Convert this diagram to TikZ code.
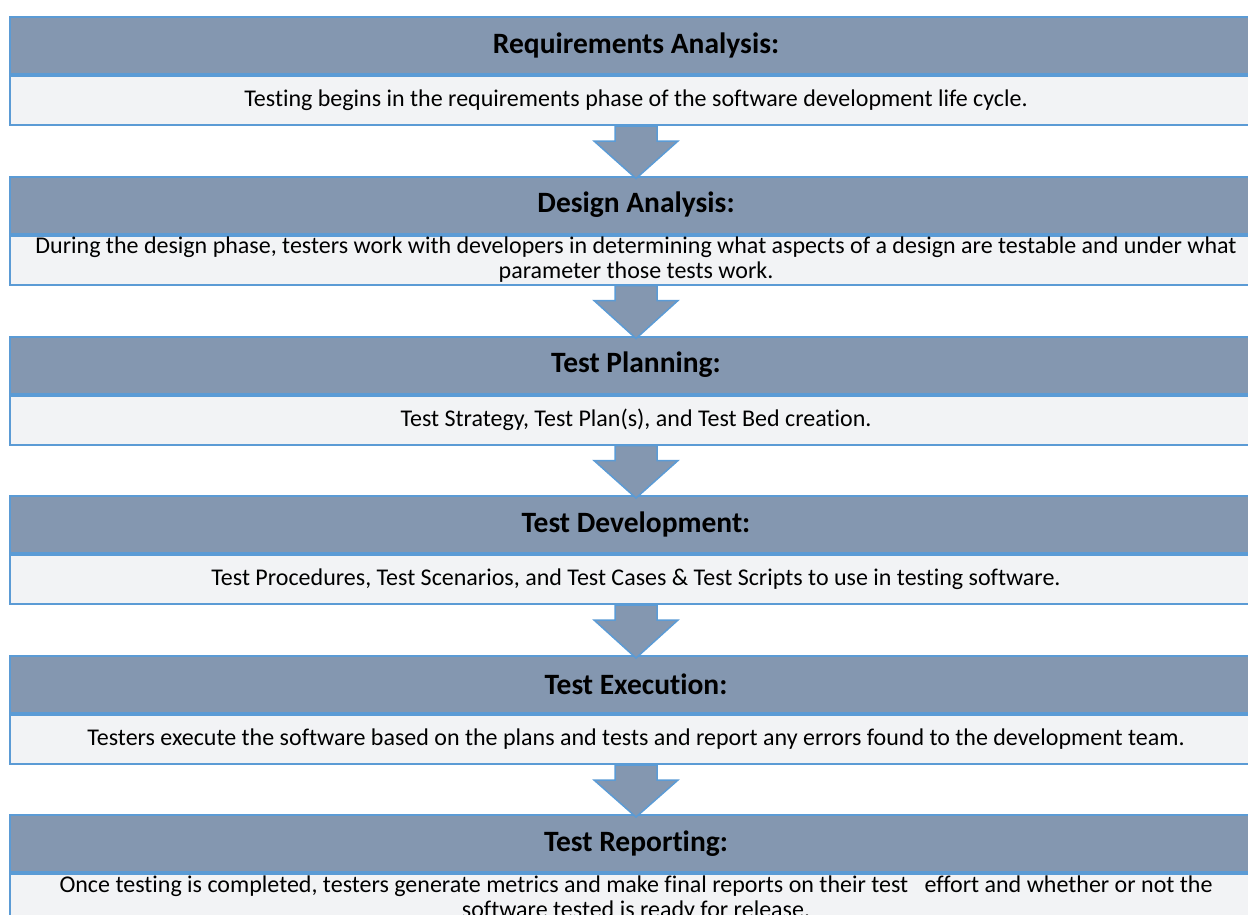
\documentclass[tikz,border=0pt]{standalone}
\usepackage{fontspec}
\setmainfont{Carlito}[Ligatures=NoCommon]
\usetikzlibrary{calc,positioning}

\definecolor{headfill}{HTML}{8497B0}
\definecolor{descfill}{HTML}{F2F3F5}
\definecolor{edgeblue}{HTML}{5B9BD5}

% block arrow from one stage to the next
\newcommand{\stagearrow}[2]{%
  \draw[StageArrow] ($(#1.south)+(-21,0)$) -- ($(#1.south)+(21,0)$)
    -- ($(#1.south)+(21,-15)$) -- ($(#1.south)+(42,-15)$)
    -- ($(#2.north)+(0,-3)$)
    -- ($(#1.south)+(-42,-15)$) -- ($(#1.south)+(-21,-15)$) -- cycle;}

\begin{document}
\begin{tikzpicture}[x=1pt,y=1pt]
          \useasboundingbox (0,0) rectangle (1248,-914);
          \tikzset{HeadBox/.style = {rectangle, draw=edgeblue, fill=headfill, line width=2pt,
                     minimum width=1252pt, minimum height=57pt, inner sep=0pt,
                     font=\bfseries\fontsize{29.5}{34}\selectfont}};
          \tikzset{DescBox/.style = {rectangle, draw=edgeblue, fill=descfill, line width=2pt,
                     minimum width=1252pt, minimum height=49pt, inner sep=1pt, align=center,
                     font=\fontsize{24}{25}\selectfont}};
          \tikzset{StageArrow/.style = {draw=edgeblue, fill=headfill, line width=1.5pt, line join=miter}};

          % stages
          \node[HeadBox] (h1) at (636,-45.5) {Requirements Analysis:};
          \node[DescBox, below=0pt of h1] (d1) {Testing begins in the requirements phase of the software development life cycle.};

          \node[HeadBox] (h2) at (636,-205) {Design Analysis:};
          \node[DescBox, below=0pt of h2] (d2) {During the design phase, testers work with developers in determining what aspects of a design are testable and under what\\parameter those tests work.};

          \node[HeadBox] (h3) at (636,-365) {Test Planning:};
          \node[DescBox, below=0pt of h3] (d3) {Test Strategy, Test Plan(s), and Test Bed creation.};

          \node[HeadBox] (h4) at (636,-524.5) {Test Development:};
          \node[DescBox, below=0pt of h4] (d4) {Test Procedures, Test Scenarios, and Test Cases \& Test Scripts to use in testing software.};

          \node[HeadBox] (h5) at (636,-684.5) {Test Execution:};
          \node[DescBox, below=0pt of h5] (d5) {Testers execute the software based on the plans and tests and report any errors found to the development team.};

          \node[HeadBox] (h6) at (636,-843.5) {Test Reporting:};
          \node[DescBox, below=0pt of h6] (d6) {Once testing is completed, testers generate metrics and make final reports on their test\ \ \ effort and whether or not the\\software tested is ready for release.};

          % flow arrows
          \stagearrow{d1}{h2}
          \stagearrow{d2}{h3}
          \stagearrow{d3}{h4}
          \stagearrow{d4}{h5}
          \stagearrow{d5}{h6}
\end{tikzpicture}
\end{document}
